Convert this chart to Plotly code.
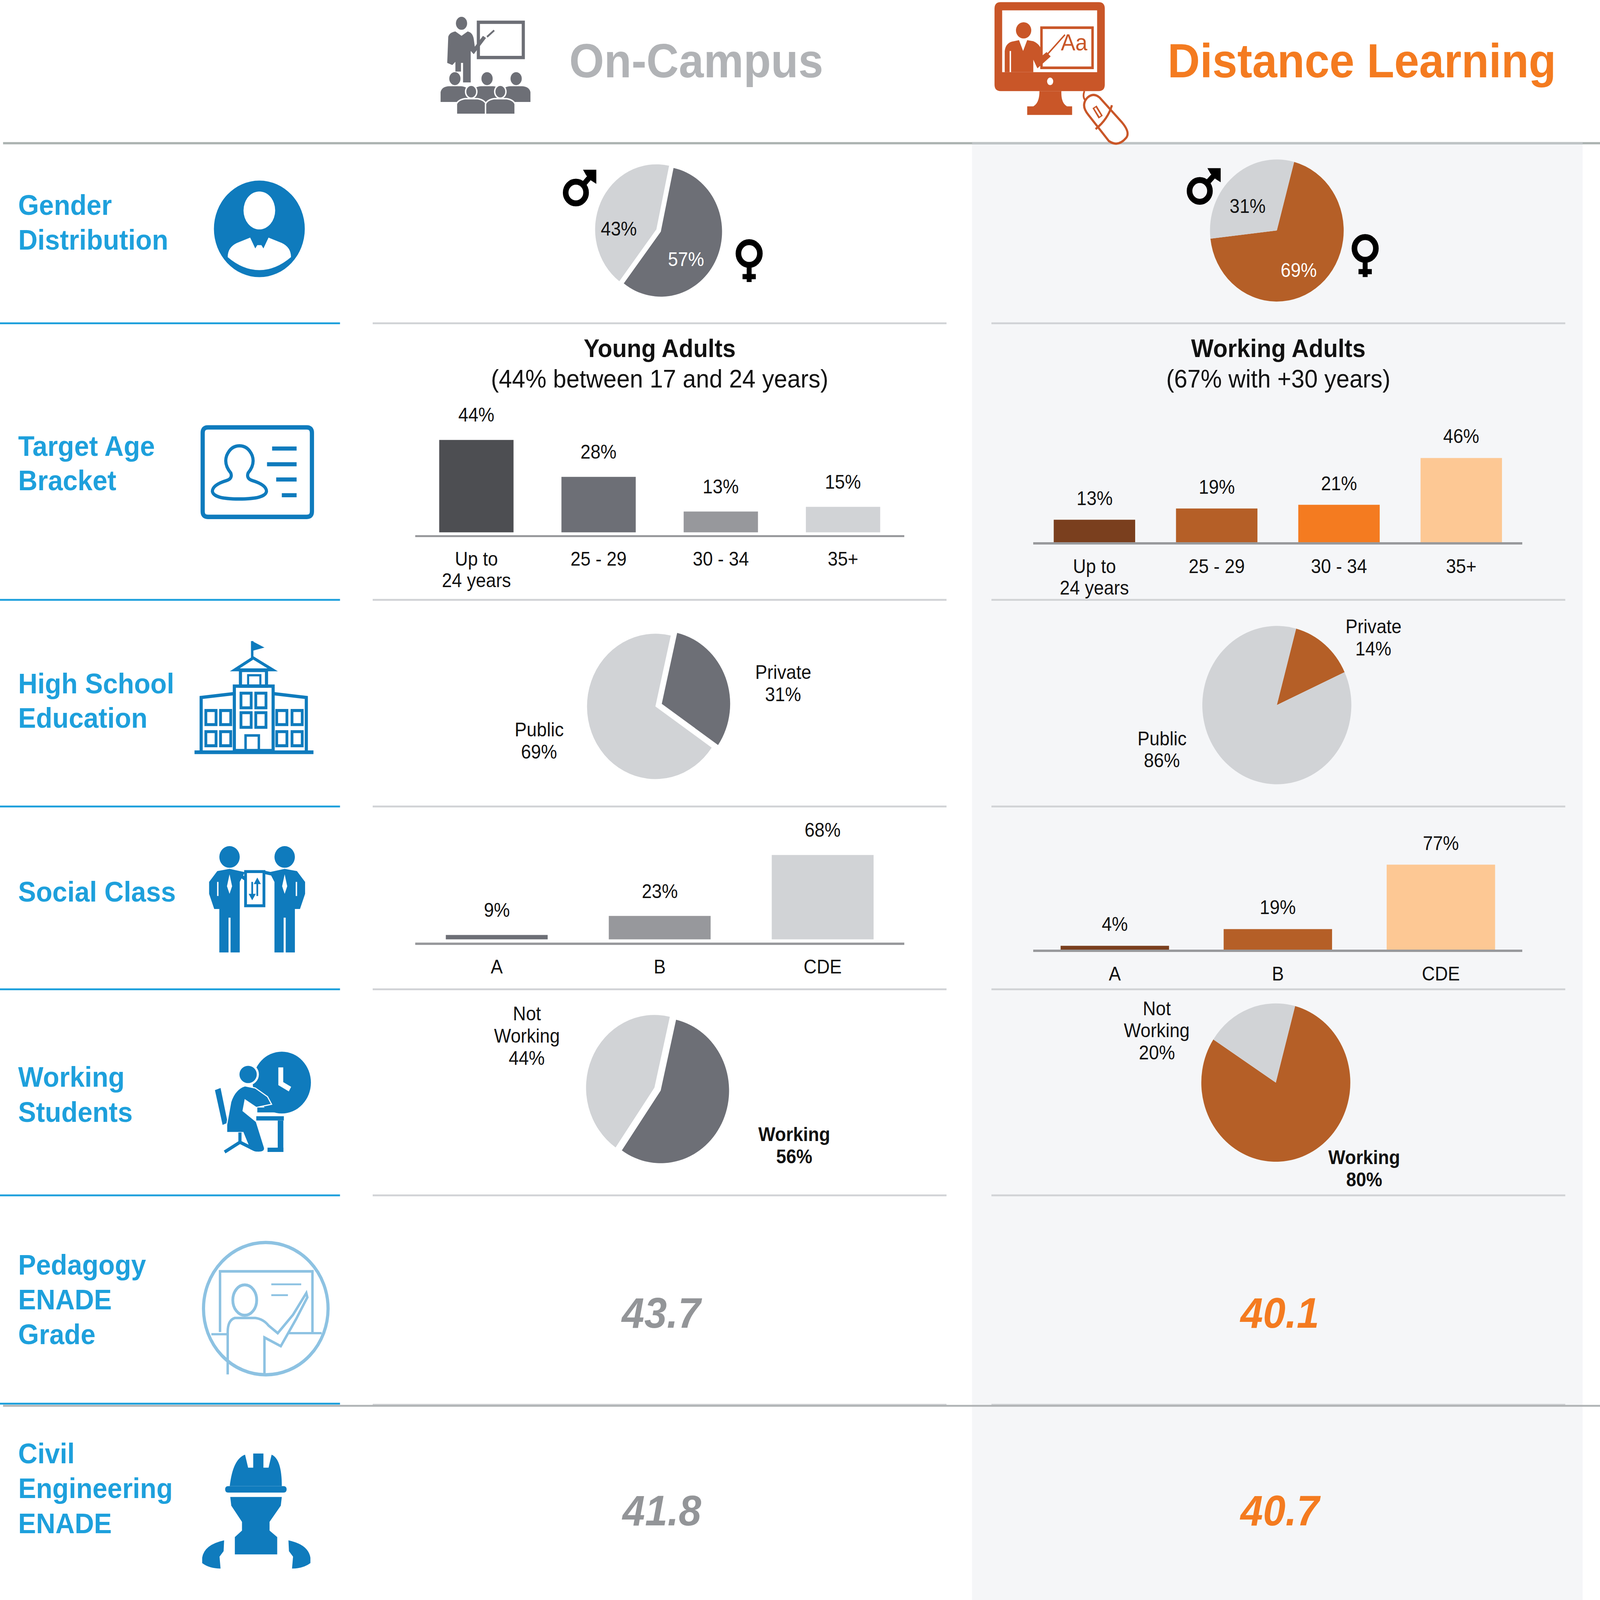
import plotly.graph_objects as go

# Valores
age_labels = ["Up to<br>24 years", "25 - 29", "30 - 34", "35+"]
age_campus = [44, 28, 13, 15]
age_distance = [13, 19, 21, 46]
class_labels = ["A", "B", "CDE"]
class_campus = [9, 23, 68]
class_distance = [4, 19, 77]
gender_campus = [57, 43]
gender_distance = [69, 31]
school_campus = [31, 69]
school_distance = [14, 86]
working_campus = [56, 44]
working_distance = [80, 20]
pedagogy_grades = ["43.7", "40.1"]
civil_grades = ["41.8", "40.7"]

W, H = 1567, 1475  # sistema de coordenadas do desenho

BLUE = "#1EA0DC"
ICON = "#0F7BBD"
PALE = "#8DC2E2"
LIGHT = "#D1D3D6"
DARK = "#6D6F76"
BROWN = "#B55F27"
ORANGE = "#F47B20"
RUST = "#C95628"
FONT = "Liberation Sans"

shapes = []
annotations = []
traces = []
axes = {}


def box(x0, y0, x1, y1, fill="rgba(0,0,0,0)", line=None, w=0, layer="above"):
    shapes.append(dict(type="rect", xref="x", yref="y", x0=x0, y0=y0, x1=x1, y1=y1, fillcolor=fill,
                       line=dict(color=line or "rgba(0,0,0,0)", width=w), layer=layer))


def circ(cx, cy, rx, ry=None, fill="rgba(0,0,0,0)", line=None, w=0):
    ry = ry or rx
    shapes.append(dict(type="circle", xref="x", yref="y", x0=cx - rx, y0=cy - ry, x1=cx + rx, y1=cy + ry,
                       fillcolor=fill, line=dict(color=line or "rgba(0,0,0,0)", width=w)))


def path(d, fill="rgba(0,0,0,0)", line=None, w=0):
    shapes.append(dict(type="path", xref="x", yref="y", path=d, fillcolor=fill,
                       line=dict(color=line or "rgba(0,0,0,0)", width=w)))


def seg(x0, y0, x1, y1, color, w):
    shapes.append(dict(type="line", xref="x", yref="y", x0=x0, y0=y0, x1=x1, y1=y1,
                       line=dict(color=color, width=w)))


def rounded(x0, y0, x1, y1, r):
    return (f"M{x0 + r},{y0} L{x1 - r},{y0} Q{x1},{y0} {x1},{y0 + r} L{x1},{y1 - r} Q{x1},{y1} {x1 - r},{y1} "
            f"L{x0 + r},{y1} Q{x0},{y1} {x0},{y1 - r} L{x0},{y0 + r} Q{x0},{y0} {x0 + r},{y0} Z")


def label(x, y, text, size=51.5, color="#111111", bold=False, italic=False, anchor="center"):
    if bold:
        text = f"<b>{text}</b>"
    if italic:
        text = f"<i>{text}</i>"
    annotations.append(dict(xref="x", yref="y", x=x, y=y, text=text, showarrow=False, xanchor=anchor,
                            yanchor="middle", font=dict(family=FONT, size=size, color=color)))


def stacked(x, y, lines, step=20.5, **kw):
    # uma anotação por linha para acertar a entrelinha
    top = y - step * (len(lines) - 1) / 2
    for i, t in enumerate(lines):
        label(x, top + i * step, t, **kw)


def pie(values, colors, cx, cy, r, start, pull=0.0):
    rr = r * (1 + pull)
    traces.append(go.Pie(values=values, sort=False, direction="clockwise", rotation=start,
                         marker=dict(colors=colors, line=dict(width=0)), pull=pull,
                         textinfo="none", showlegend=False, hoverinfo="skip",
                         domain=dict(x=[(cx - rr) / W, (cx + rr) / W],
                                     y=[1 - (cy + rr) / H, 1 - (cy - rr) / H])))


def bars(idx, cats, values, colors, x0, x1, axis_y, bottom, top, yrange, gap, shift):
    xa, ya = f"x{idx}", f"y{idx}"
    traces.append(go.Bar(x=list(range(len(cats))), y=values, marker=dict(color=colors, line=dict(width=0)),
                         width=1 - gap, xaxis=xa, yaxis=ya, showlegend=False, hoverinfo="skip"))
    axes[f"xaxis{idx}"] = dict(domain=[x0 / W, x1 / W], anchor="free", position=1 - axis_y / H,
                               range=[-0.5, len(cats) - 0.5], tickmode="array",
                               tickvals=list(range(len(cats))), ticktext=[c.split("<br>")[0] for c in cats],
                               showgrid=False, zeroline=False,
                               showline=True, linecolor="#98999C", linewidth=6, ticks="outside", ticklen=15,
                               tickcolor="rgba(0,0,0,0)", tickfont=dict(family=FONT, size=51.5, color="#111111"),
                               fixedrange=True)
    axes[f"yaxis{idx}"] = dict(domain=[1 - bottom / H, 1 - top / H], anchor=xa, range=yrange, visible=False,
                               fixedrange=True)
    for i, v in enumerate(values):
        annotations.append(dict(xref=xa, yref=ya, x=i, y=v, text=f"{v}%", showarrow=False, xanchor="center",
                                yanchor="middle", yshift=shift,
                                font=dict(family=FONT, size=51.5, color="#111111")))
    # segunda linha do rótulo: a entrelinha do eixo é maior que a da figura
    for i, c in enumerate(cats):
        if "<br>" in c:
            annotations.append(dict(xref=xa, yref="y", x=i, y=axis_y + 41, text=c.split("<br>")[1], showarrow=False,
                                    xanchor="center", yanchor="middle",
                                    font=dict(family=FONT, size=51.5, color="#111111")))


def male(cx, cy, tx, ty):
    circ(cx, cy, 10, 10, line="#000000", w=16)
    seg(cx + 7, cy - 7, tx - 2, ty + 2, "#000000", 15)
    path(f"M{tx - 13},{ty} L{tx},{ty} L{tx},{ty + 13} L{tx - 5},{ty + 10} L{tx - 10},{ty + 5} Z", fill="#000000")


def female(cx, cy, bottom):
    circ(cx, cy, 10.5, 10.5, line="#000000", w=16)
    seg(cx, cy + 12, cx, bottom, "#000000", 14)
    seg(cx - 6.5, bottom - 5, cx + 6.5, bottom - 5, "#000000", 14)


# ---------- fundo e linhas ----------
box(952, 133, 1550, 1475, fill="#F5F6F8", layer="below")
seg(3, 132, 1567, 132, "#ABB3B1", 6)
seg(952, 132, 1550, 132, "#BEC3C5", 6)
for y in [298, 553, 743.5, 912, 1102]:
    seg(0, y, 333, y, BLUE, 5)
    seg(365, y, 927, y, LIGHT, 5)
    seg(971, y, 1533, y, LIGHT, 5)
seg(365, 1295, 927, 1295, LIGHT, 5)
seg(971, 1295, 1533, 1295, LIGHT, 5)
seg(3, 1296, 1567, 1296, "#B0B3B5", 5)
seg(0, 1294, 333, 1294, BLUE, 5)

# ---------- cabeçalho ----------
label(557, 56, "On-Campus", size=128, color="#B1B3B6", bold=True, anchor="left")
label(1143, 56, "Distance Learning", size=128, color=ORANGE, bold=True, anchor="left")

# ícone presencial
box(468.5, 20.5, 512.5, 53, line=DARK, w=9)
circ(452, 21.5, 5.5, 6, fill=DARK)
path("M439,34 Q440,30 446,29 L452,33 L458,29 Q463,30 464,36 L465,43 L473,33 L476,35 L464,50 L461,47 "
     "L461,76 L453.5,76 L453.5,58 L451.5,58 L451.5,66 L446,66 L446,57 L443,60 L438,58 Z", fill=DARK)
seg(477, 34, 484, 28, DARK, 5)
for cx in [445.5, 477, 505.5]:
    circ(cx, 72.5, 5.5, 6, fill=DARK)
    path(f"M{cx - 14},94 L{cx - 14},85 Q{cx - 13},80 {cx - 6},79.5 L{cx + 6},79.5 Q{cx + 13},80 {cx + 14},85 "
         f"L{cx + 14},94 Z", fill=DARK)
for cx in [461.5, 490]:
    circ(cx, 84.5, 5.5, 6, fill=DARK, line="#FFFFFF", w=4)
    path(f"M{cx - 14.5},105.5 L{cx - 14.5},96 Q{cx - 13},92 {cx - 6},91 L{cx + 6},91 Q{cx + 13},92 {cx + 14.5},96 "
         f"L{cx + 14.5},105.5 Z", fill=DARK, line="#FFFFFF", w=4)

# ícone a distância
path(rounded(974, 2, 1082, 84, 6), fill=RUST)
box(981.5, 9.5, 1074.5, 66.5, fill="#FFFFFF")
circ(1028.5, 75, 3, 3.5, fill="#FFFFFF")
path("M1018,84 L1039.5,84 Q1039,95 1045,98 L1050,98 L1050,106 L1006,106 L1006,98 L1012,98 Q1018,95 1018,84 Z",
     fill=RUST)
box(1020, 25.5, 1070, 62.5, line=RUST, w=7)
label(1052, 39, "Aa", size=62, color=RUST)
seg(1024, 52, 1043, 32, RUST, 4)
circ(1002.5, 28, 7.5, 7.5, fill=RUST)
path("M984,66.5 L984,47 Q985,39 993,38 L998,37 L1002,47 L1006,37 L1012,38 Q1019,41 1020,47 L1021,51 "
     "L1025,48 L1029,52 L1016,63 L1012,55 L1012,66.5 Z", fill=RUST)
seg(989.5, 47, 989.5, 66.5, "#FFFFFF", 4)
path("M1062,84 Q1059,92 1067,95", line=RUST, w=5)
path("M1065,90 Q1071,85 1077,90 L1099,113 Q1107,122 1103,127 Q1095,136 1086,130 L1066,106 Q1058,97 1065,90 Z",
     fill="#FFFFFF", line=RUST, w=6)
path("M1089,97 Q1085,110 1073,119", line=RUST, w=6)
seg(1072, 98.5, 1078, 108, RUST, 14)
seg(1072.5, 99.5, 1077.5, 107, "#FFFFFF", 5)

# ---------- coluna da esquerda ----------
row_names = [
    (205, ["Gender", "Distribution"]),
    (427, ["Target Age", "Bracket"]),
    (646, ["High School", "Education"]),
    (822, ["Social Class"]),
    (1009, ["Working", "Students"]),
    (1198, ["Pedagogy", "ENADE", "Grade"]),
    (1372, ["Civil", "Engineering", "ENADE"]),
]
for y, names in row_names:
    top = y - 16 * (len(names) - 1)
    for i, t in enumerate(names):
        label(17, top + 32 * i, t, size=76.4, color=BLUE, bold=True, anchor="left")

# gênero
circ(254, 211, 44.5, fill=ICON)
circ(254, 194, 15.5, 17.5, fill="#FFFFFF")
path("M223,237 Q223,228 232,224 L245,219 L250,229 L252,226 L256,226 L258,229 L263,219 L276,224 Q285,228 285,237 "
     "Q270,249 254,249 Q238,249 223,237 Z", fill="#FFFFFF")

# crachá
path(rounded(198.5, 394, 305.5, 476.5, 5), line=ICON, w=12)
path("M226,436 Q219,428 222,420 Q226,411 234.5,411 Q243,411 247,420 Q250,428 243,436 Q241,441 247,443 "
     "Q261,447 261,453 Q260,460 234,460 Q209,460 208,453 Q208,447 222,443 Q228,441 226,436 Z", line=ICON, w=9)
seg(266.5, 413.5, 290.5, 413.5, ICON, 11)
seg(261.5, 428, 290.5, 428, ICON, 11)
seg(270.5, 442, 290.5, 442, ICON, 11)
seg(276, 456.5, 290.5, 456.5, ICON, 11)

# escola
seg(190.5, 693.5, 307, 693.5, ICON, 10)
path("M197,692 L197,643 L229,639.5", line=ICON, w=9)
path("M300,692 L300,643 L268,639.5", line=ICON, w=9)
box(229.5, 632.5, 267.5, 692, line=ICON, w=9)
box(235.5, 618, 261, 632.5, line=ICON, w=9)
path("M230,617.5 L248,606.5 L267,617.5 Z", line=ICON, w=8)
seg(247, 591, 247, 606.5, ICON, 7)
path("M247,591 L259,597 L247,600 Z", fill=ICON)
for wx in [201.6, 216, 271, 286]:
    for wy in [655, 674.5]:
        box(wx, wy, wx + 10, wy + 13, line=ICON, w=8)
for wx in [236, 250.5]:
    for wy in [639, 657]:
        box(wx, wy, wx + 10, wy + 13.5, line=ICON, w=8)
box(240.5, 678, 253.5, 693, line=ICON, w=7)
box(243, 622.5, 255, 632, line=ICON, w=6)

# classe social
for cx, s in [(224.8, 1), (278.8, -1)]:
    circ(cx, 790, 10, 10, fill=ICON)
    pts = [(0, 801), (12, 803), (20, 813), (20, 824), (15, 838), (10, 838), (10, 878), (1, 878), (1, 846),
           (-1, 846), (-1, 878), (-10, 878), (-10, 825), (-10, 813), (-15, 804)]
    d = "M" + " L".join(f"{cx - s * dx},{y}" for dx, y in pts) + " Z"
    path(d, fill=ICON)
    path(f"M{cx},806 L{cx + 2.5},817 L{cx},824 L{cx - 2.5},817 Z", fill="#FFFFFF")
    seg(cx - s * 11.5, 813, cx - s * 11.5, 826, "#FFFFFF", 4)
seg(234, 806, 241, 811, ICON, 9)
seg(268, 806, 258, 804, ICON, 9)
box(240.5, 803.5, 258.5, 835, fill="#FFFFFF", line=ICON, w=8)
seg(247, 813, 247, 828, ICON, 5)
seg(252, 811, 252, 826, ICON, 5)
path("M243.5,824 L250.5,824 L247,830 Z", fill=ICON)
path("M248.5,815 L255.5,815 L252,809 Z", fill=ICON)

# alunos que trabalham
circ(276, 998, 28.5, fill=ICON)
path("M275,984 L275,999 L284,1004", line="#FFFFFF", w=14)
circ(243, 990.5, 9.5, 9, fill=ICON, line="#FFFFFF", w=6)
path("M210.5,1005 L216,1003 L223,1035 L218,1037 Z", fill=ICON)
path("M222,1037 L226,1016 Q230,1004 240,1001 L250,1003 L262,1011 L266,1018 L251,1021 L240,1014 L238,1024 "
     "L251,1034 L259,1058 Q260,1063 250,1062 L245,1060 L238,1044 L222,1044 Z", fill=ICON, line="#FFFFFF", w=3)
seg(235, 1044, 235, 1053, ICON, 9)
path("M220,1062 L235,1053 L250,1060", line=ICON, w=9)
box(252, 1021, 280, 1025.5, fill=ICON)
box(251, 1029, 278, 1033, fill=ICON)
box(272, 1033, 277.5, 1062, fill=ICON)
box(262, 1058, 277.5, 1062, fill=ICON)

# pedagogia
circ(260.3, 1206.4, 61, line=PALE, w=9)
path("M215.5,1228 L215.5,1172 L306,1172 L306,1228", line=PALE, w=7)
circ(239.7, 1198.5, 11.7, 14, line=PALE, w=8)
path("M223,1267 L223,1228 Q223,1217 230,1215 L250,1215 Q258,1216 263,1222 L272,1229 L287,1212 L300,1192 L301,1196 "
     "L290,1216 L275,1241 L259,1233 L259,1267", line=PALE, w=7)
seg(265.7, 1184, 295, 1184, PALE, 5)
seg(265.7, 1194, 282, 1194, PALE, 5)
seg(207, 1230, 222, 1230, PALE, 6)
seg(282, 1229, 315, 1229, PALE, 6)

# engenharia civil
path("M225,1370 Q228,1345 240,1341 L243,1353 L248,1353 L248,1340 L258,1340 L258,1353 L263,1353 L266,1341 "
     "Q276,1345 276,1370 Z", fill=ICON)
path(rounded(220.5, 1370, 280.7, 1376, 3), fill=ICON)
path("M225.5,1380 L276,1380 L275,1388 L264,1403 L264,1411 L271.5,1417 L271.5,1433 L230,1433 L230,1417 L237,1411 "
     "L237,1403 L226.5,1388 Z", fill=ICON)
path("M198,1436 Q200,1424 219.5,1420 L219,1430 L215,1435 L216,1446 Q205,1446 198,1441 Z", fill=ICON)
path("M304,1436 Q302,1424 282.5,1420 L283,1430 L287,1435 L286,1446 Q297,1446 304,1441 Z", fill=ICON)

# ---------- gênero ----------
pie(gender_campus, [DARK, LIGHT], 645, 212.5, 60, 12, pull=0.04)
label(606, 211, f"{gender_campus[1]}%")
label(672, 239, f"{gender_campus[0]}%", color="#FFFFFF")
male(564, 177.5, 584, 156.5)
female(733.7, 233.7, 260)
pie(gender_distance, [BROWN, LIGHT], 1250.5, 212.5, 65.5, 15)
label(1222, 190, f"{gender_distance[1]}%")
label(1272, 249, f"{gender_distance[0]}%", color="#FFFFFF")
male(1175, 176, 1195.5, 155)
female(1337, 229, 255.4)

# ---------- idade ----------
label(646, 321, "Young Adults", size=68, bold=True)
label(646, 349, "(44% between 17 and 24 years)", size=68)
label(1252, 321, "Working Adults", size=68, bold=True)
label(1252, 349, "(67% with +30 years)", size=68)
bars(2, age_labels, age_campus, ["#4D4E52", DARK, "#97989C", LIGHT], 406.7, 885.5, 494.2, 490.7, 380, [4, 56], 0.392, 67)
bars(3, age_labels, age_distance, ["#7A3F1E", BROWN, ORANGE, "#FDC894"], 1012, 1491, 501, 500, 380, [0.9, 70.5], 0.334, 58)

# ---------- escola ----------
pie(school_campus, [DARK, LIGHT], 645, 650, 67, 13, pull=0.05)
stacked(767, 630, ["Private", f"{school_campus[0]}%"])
stacked(528, 683, ["Public", f"{school_campus[1]}%"])
pie(school_distance, [BROWN, LIGHT], 1250.5, 650, 73, 15)
stacked(1345, 588, ["Private", f"{school_distance[0]}%"])
stacked(1138, 691, ["Public", f"{school_distance[1]}%"])

# ---------- classe ----------
bars(4, class_labels, class_campus, [DARK, "#97989C", LIGHT], 406.7, 885.5, 870, 866, 760, [5.7, 90.6], 0.375, 67)
bars(5, class_labels, class_distance, ["#7A3F1E", BROWN, "#FDC894"], 1012, 1491, 876.5, 876, 770, [0, 103.4], 0.335, 58)

# ---------- trabalho ----------
pie(working_campus, [DARK, LIGHT], 644, 1004, 67, 13, pull=0.05)
stacked(516, 955, ["Not", "Working", f"{working_campus[1]}%"])
stacked(778, 1056, ["Working", f"{working_campus[0]}%"], bold=True)
pie(working_distance, [BROWN, LIGHT], 1249.5, 998, 73, 15)
stacked(1133, 950, ["Not", "Working", f"{working_distance[1]}%"])
stacked(1336, 1077, ["Working", f"{working_distance[0]}%"], bold=True)

# ---------- notas ----------
label(648, 1210, pedagogy_grades[0], size=115.6, color="#939598", bold=True, italic=True)
label(1253, 1210, pedagogy_grades[1], size=115.6, color=ORANGE, bold=True, italic=True)
label(648, 1392, civil_grades[0], size=115.6, color="#939598", bold=True, italic=True)
label(1254, 1392, civil_grades[1], size=115.6, color=ORANGE, bold=True, italic=True)

# eixo invisível só para posicionar textos e ícones
traces.insert(0, go.Scatter(x=[0, W], y=[0, H], mode="none", showlegend=False, hoverinfo="skip"))

fig = go.Figure(traces)
fig.update_layout(
    width=4570,
    height=4300,
    margin=dict(l=0, r=0, t=0, b=0),
    paper_bgcolor="#FFFFFF",
    plot_bgcolor="rgba(0,0,0,0)",
    showlegend=False,
    hovermode=False,
    xaxis=dict(domain=[0, 1], range=[0, W], visible=False, fixedrange=True),
    yaxis=dict(domain=[0, 1], range=[H, 0], visible=False, fixedrange=True),
    shapes=shapes,
    annotations=annotations,
    **axes,
)

# a janela do navegador pode ser menor que 4570x4300: ajusta a figura à janela
fit_window = """
document.documentElement.style.overflow = 'hidden';
document.body.style.margin = '0';
document.body.style.overflow = 'hidden';
var gd = document.querySelector('.plotly-graph-div');
gd.style.transformOrigin = '0 0';
gd.style.transform = 'scale(' + (window.innerWidth / 4570) + ',' + (window.innerHeight / 4300) + ')';
"""
fig.write_html("out.html", config={"displayModeBar": False}, post_script=fit_window)
